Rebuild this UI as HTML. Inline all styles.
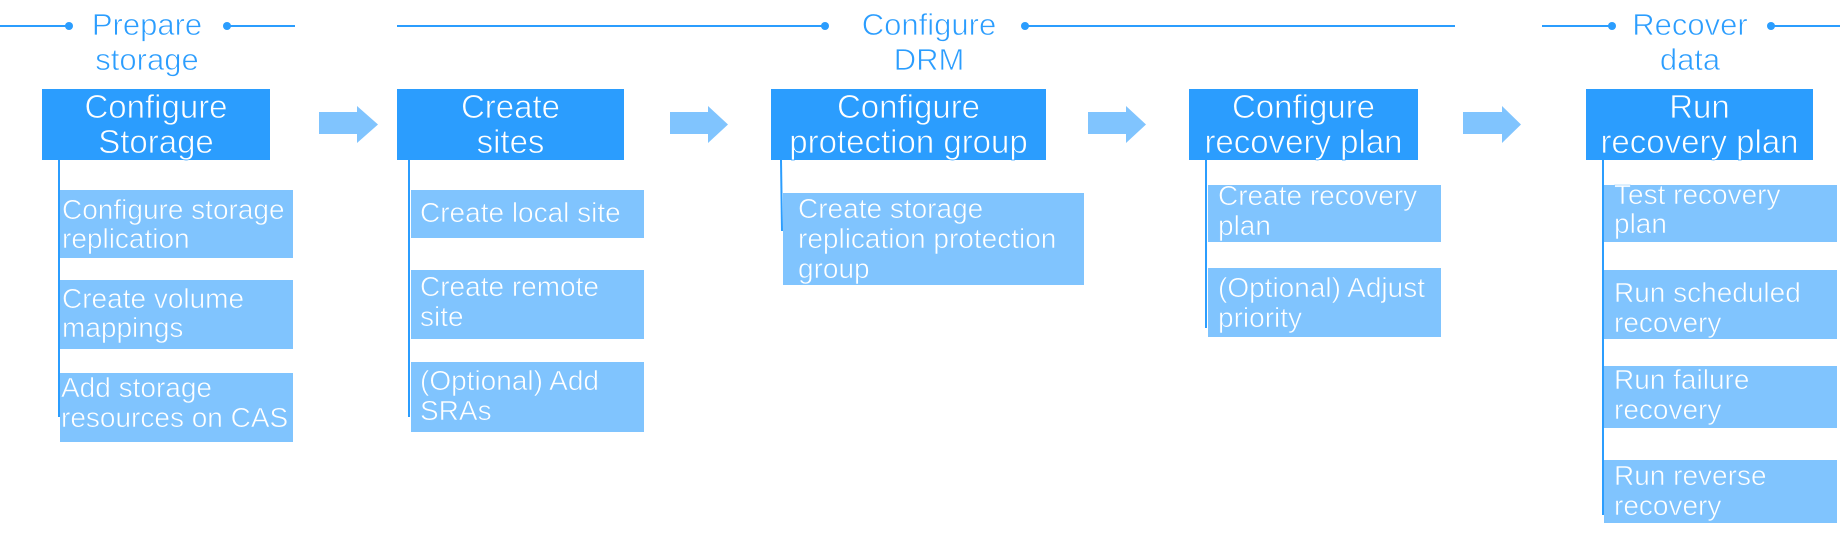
<!DOCTYPE html>
<html>
<head>
<meta charset="utf-8">
<style>
  html, body { margin: 0; padding: 0; background: #ffffff; }
  body { width: 1843px; height: 537px; overflow: hidden; }
  svg { display: block; }
  text { font-family: "Liberation Sans", "DejaVu Sans", sans-serif; }
  .hdr { fill: #2b9dfe; font-size: 31px; text-anchor: middle; stroke: #ffffff; stroke-width: 0.7px; }
  .ttl { fill: #ffffff; font-size: 33px; text-anchor: middle; stroke: #2b9dfe; stroke-width: 0.7px; }
  .sub { fill: #ffffff; font-size: 28px; stroke: #80c4fe; stroke-width: 0.6px; }
</style>
</head>
<body>
<svg width="1843" height="537" viewBox="0 0 1843 537" xmlns="http://www.w3.org/2000/svg">
  <!-- Header lines and dots -->
  <g stroke="#2b9dfe" stroke-width="2" fill="none">
    <line x1="0" y1="26" x2="69" y2="26"/>
    <line x1="227" y1="26" x2="295" y2="26"/>
    <line x1="397" y1="26" x2="825" y2="26"/>
    <line x1="1025" y1="26" x2="1455" y2="26"/>
    <line x1="1542" y1="26" x2="1612" y2="26"/>
    <line x1="1771" y1="26" x2="1840" y2="26"/>
  </g>
  <g fill="#2b9dfe">
    <circle cx="69" cy="26" r="4"/>
    <circle cx="227" cy="26" r="4"/>
    <circle cx="825" cy="26" r="4"/>
    <circle cx="1025" cy="26" r="4"/>
    <circle cx="1612" cy="26" r="4"/>
    <circle cx="1771" cy="26" r="4"/>
  </g>
  <!-- Header texts -->
  <text class="hdr" x="147" y="35">Prepare</text>
  <text class="hdr" x="147" y="70">storage</text>
  <text class="hdr" x="929" y="35">Configure</text>
  <text class="hdr" x="929" y="70">DRM</text>
  <text class="hdr" x="1690" y="35">Recover</text>
  <text class="hdr" x="1690" y="70">data</text>

  <!-- Main boxes -->
  <g fill="#2b9dfe">
    <rect x="42" y="89" width="228" height="71"/>
    <rect x="397" y="89" width="227" height="71"/>
    <rect x="771" y="89" width="275" height="71"/>
    <rect x="1189" y="89" width="229" height="71"/>
    <rect x="1586" y="89" width="227" height="71"/>
  </g>
  <text class="ttl" x="156" y="118">Configure</text>
  <text class="ttl" x="156" y="153">Storage</text>
  <text class="ttl" x="510.5" y="118">Create</text>
  <text class="ttl" x="510.5" y="153">sites</text>
  <text class="ttl" x="908.5" y="118">Configure</text>
  <text class="ttl" x="908.5" y="153">protection group</text>
  <text class="ttl" x="1303.5" y="118">Configure</text>
  <text class="ttl" x="1303.5" y="153">recovery plan</text>
  <text class="ttl" x="1699.5" y="118">Run</text>
  <text class="ttl" x="1699.5" y="153">recovery plan</text>

  <!-- Arrows -->
  <g fill="#80c4fe">
    <polygon points="319,112 357,112 357,106 378,124.5 357,143 357,134 319,134"/>
    <polygon points="670,112 708,112 708,106 728,124.5 708,143 708,134 670,134"/>
    <polygon points="1088,112 1126,112 1126,106 1146,124.5 1126,143 1126,134 1088,134"/>
    <polygon points="1463,112 1502,112 1502,106 1521,124.5 1502,143 1502,134 1463,134"/>
  </g>

  <!-- Sub boxes -->
  <g fill="#80c4fe">
    <rect x="59" y="190" width="234" height="68"/>
    <rect x="59" y="280" width="234" height="69"/>
    <rect x="60" y="373" width="233" height="69"/>
    <rect x="411" y="190" width="233" height="48"/>
    <rect x="411" y="270" width="233" height="69"/>
    <rect x="411" y="362" width="233" height="70"/>
    <rect x="783" y="193" width="301" height="92"/>
    <rect x="1208" y="185" width="233" height="57"/>
    <rect x="1208" y="268" width="233" height="69"/>
    <rect x="1604" y="185" width="233" height="57"/>
    <rect x="1604" y="270" width="233" height="69"/>
    <rect x="1604" y="366" width="233" height="62"/>
    <rect x="1604" y="460" width="233" height="63"/>
  </g>

  <!-- Vertical connector lines -->
  <g stroke="#2b9dfe" stroke-width="2">
    <line x1="59" y1="160" x2="59" y2="417"/>
    <line x1="409" y1="160" x2="409" y2="417"/>
    <line x1="781" y1="160" x2="782" y2="231"/>
    <line x1="1206" y1="160" x2="1206" y2="328"/>
    <line x1="1603" y1="160" x2="1603" y2="515"/>
  </g>

  <!-- Sub box texts -->
  <text class="sub" x="62" y="219">Configure storage</text>
  <text class="sub" x="62" y="248">replication</text>
  <text class="sub" x="62" y="308">Create volume</text>
  <text class="sub" x="62" y="337">mappings</text>
  <text class="sub" x="61" y="397">Add storage</text>
  <text class="sub" x="61" y="427">resources on CAS</text>

  <text class="sub" x="420" y="222">Create local site</text>
  <text class="sub" x="420" y="296">Create remote</text>
  <text class="sub" x="420" y="326">site</text>
  <text class="sub" x="420" y="390">(Optional) Add</text>
  <text class="sub" x="420" y="420">SRAs</text>

  <text class="sub" x="798" y="218">Create storage</text>
  <text class="sub" x="798" y="248">replication protection</text>
  <text class="sub" x="798" y="278">group</text>

  <text class="sub" x="1218" y="205">Create recovery</text>
  <text class="sub" x="1218" y="235">plan</text>
  <text class="sub" x="1218" y="297">(Optional) Adjust</text>
  <text class="sub" x="1218" y="327">priority</text>

  <text class="sub" x="1614" y="204">Test recovery</text>
  <text class="sub" x="1614" y="233">plan</text>
  <text class="sub" x="1614" y="302">Run scheduled</text>
  <text class="sub" x="1614" y="332">recovery</text>
  <text class="sub" x="1614" y="389">Run failure</text>
  <text class="sub" x="1614" y="419">recovery</text>
  <text class="sub" x="1614" y="485">Run reverse</text>
  <text class="sub" x="1614" y="515">recovery</text>
</svg>
</body>
</html>
